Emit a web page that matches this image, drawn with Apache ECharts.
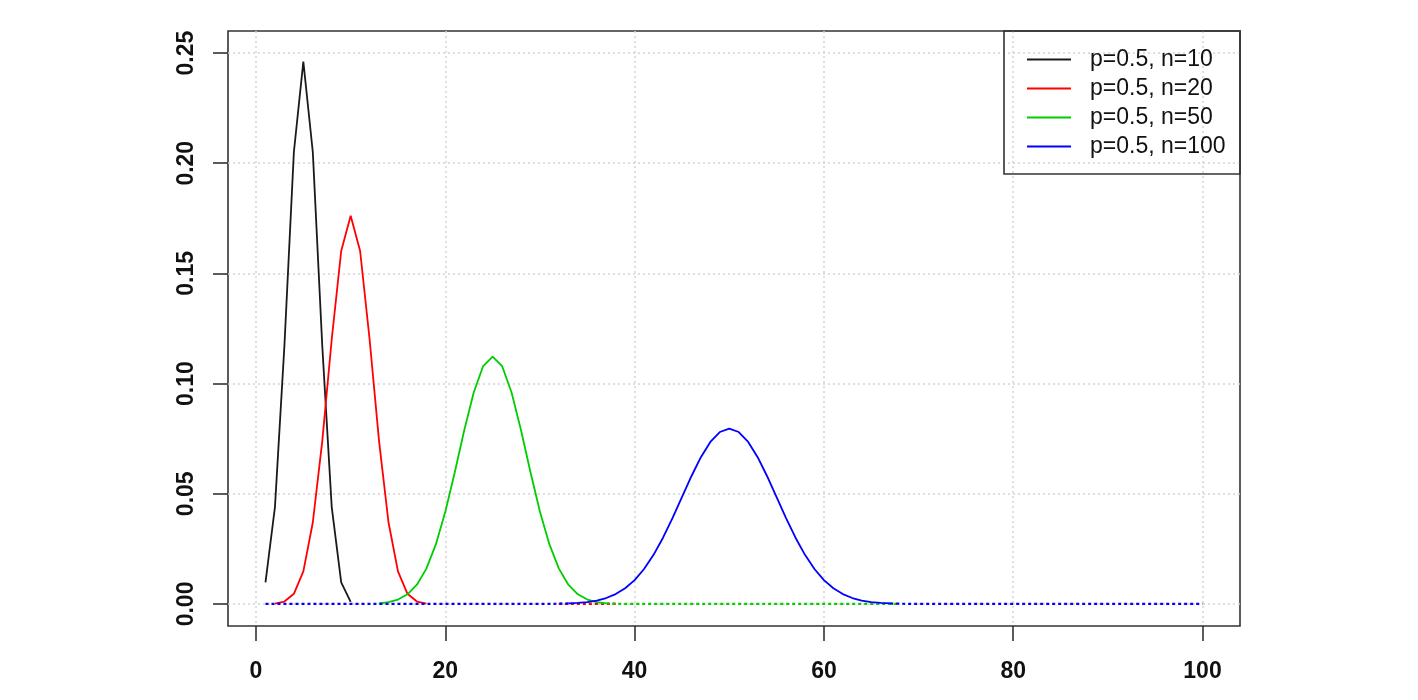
<!DOCTYPE html>
<html>
<head>
<meta charset="utf-8">
<script src="https://cdn.jsdelivr.net/npm/echarts@6/dist/echarts.min.js"></script>
<style>
html,body{margin:0;padding:0;background:#fff;}
#chart{width:1418px;height:700px;}
</style>
</head>
<body>
<div id="chart"></div>
<script>
// x positions 1..100
const xValues = Array.from({length: 100}, (_, i) => i + 1);

// Binomial probabilities (p = 0.5)
const n10 = [
  0.00977,0.04395,0.11719,0.20508,0.24609,0.20508,0.11719,0.04395,0.00977,0.00098,
  0,0,0,0,0,0,0,0,0,0, 0,0,0,0,0,0,0,0,0,0, 0,0,0,0,0,0,0,0,0,0,
  0,0,0,0,0,0,0,0,0,0, 0,0,0,0,0,0,0,0,0,0, 0,0,0,0,0,0,0,0,0,0,
  0,0,0,0,0,0,0,0,0,0, 0,0,0,0,0,0,0,0,0,0, 0,0,0,0,0,0,0,0,0,0
];
const n20 = [
  0.0000191,0.000181,0.001087,0.004621,0.014786,0.036964,0.073929,0.120134,0.160179,0.176197,
  0.160179,0.120134,0.073929,0.036964,0.014786,0.004621,0.001087,0.000181,0.0000191,0.00000095,
  0,0,0,0,0,0,0,0,0,0, 0,0,0,0,0,0,0,0,0,0,
  0,0,0,0,0,0,0,0,0,0, 0,0,0,0,0,0,0,0,0,0, 0,0,0,0,0,0,0,0,0,0,
  0,0,0,0,0,0,0,0,0,0, 0,0,0,0,0,0,0,0,0,0, 0,0,0,0,0,0,0,0,0,0
];
const n50 = [
  0,0,0,0,0,0,0,0,0.000002,0.000009,
  0.000033,0.000108,0.000315,0.000833,0.001999,0.004373,0.008746,0.016035,0.027006,0.041859,
  0.059798,0.078826,0.095962,0.107957,0.112275,0.107957,0.095962,0.078826,0.059798,0.041859,
  0.027006,0.016035,0.008746,0.004373,0.001999,0.000833,0.000315,0.000108,0.000033,0.000009,
  0.000002,0,0,0,0,0,0,0,0,0,
  0,0,0,0,0,0,0,0,0,0, 0,0,0,0,0,0,0,0,0,0, 0,0,0,0,0,0,0,0,0,0,
  0,0,0,0,0,0,0,0,0,0, 0,0,0,0,0,0,0,0,0,0
];
const n100 = [
  0,0,0,0,0,0,0,0,0,0, 0,0,0,0,0,0,0,0,0,0,
  0,0,0,0,0,0,0.000002,0.000004,0.00001,0.000023,
  0.000052,0.000113,0.000233,0.000458,0.000864,0.00156,0.002698,0.004473,0.007111,0.010844,
  0.015869,0.022292,0.030069,0.038953,0.048474,0.057958,0.066591,0.073527,0.078029,0.079589,
  0.078029,0.073527,0.066591,0.057958,0.048474,0.038953,0.030069,0.022292,0.015869,0.010844,
  0.007111,0.004473,0.002698,0.00156,0.000864,0.000458,0.000233,0.000113,0.000052,0.000023,
  0.00001,0.000004,0.000002,0,0,0,0,0,0,0,
  0,0,0,0,0,0,0,0,0,0, 0,0,0,0,0,0,0,0,0,0
];

const seriesNames = ['p=0.5, n=10', 'p=0.5, n=20', 'p=0.5, n=50', 'p=0.5, n=100'];
const seriesValues = [n10, n20, n50, n100];
const seriesColors = ['#1a1a1a', '#ff0000', '#00cd00', '#0000ff'];

const xTicks = [0, 20, 40, 60, 80, 100];
const yTicks = [0, 0.05, 0.1, 0.15, 0.2, 0.25];

// near-zero level below which a curve lies on the baseline
const flatLevel = 0.00015;

// which curve is drawn on top along the baseline at each x
const baselineOwner = xValues.map((x, i) => {
  let owner = -1;
  seriesValues.forEach((vals, s) => { if (vals[i] < flatLevel) owner = s; });
  return owner;
});

const series = [];
seriesValues.forEach((vals, s) => {
  series.push({
    name: seriesNames[s],
    type: 'line',
    data: xValues.map((x, i) => [x, vals[i] >= flatLevel ? vals[i] : null]),
    showSymbol: false,
    symbol: 'none',
    connectNulls: false,
    color: seriesColors[s],
    lineStyle: {color: seriesColors[s], width: 1.8},
    emphasis: {disabled: true},
    silent: true
  });
  series.push({
    name: '_base' + s,
    type: 'line',
    data: xValues.map((x, i) => {
      const own = baselineOwner[i] === s || baselineOwner[i - 1] === s || baselineOwner[i + 1] === s;
      return [x, own ? vals[i] : null];
    }),
    showSymbol: false,
    symbol: 'none',
    connectNulls: false,
    color: seriesColors[s],
    lineStyle: {color: seriesColors[s], width: 2.2, type: [3, 3]},
    emphasis: {disabled: true},
    silent: true
  });
});

const labelFont = {fontFamily: 'Liberation Sans, Arial, sans-serif', fontSize: 23, fontWeight: 'bold', color: '#111'};

const chart = echarts.init(document.getElementById('chart'), null, {renderer: 'canvas'});
chart.setOption({
  animation: false,
  backgroundColor: '#ffffff',
  grid: {
    left: 228, right: 178, top: 31, bottom: 74,
    show: true, borderColor: '#333', borderWidth: 1.6, backgroundColor: 'transparent'
  },
  xAxis: {
    type: 'value', min: -2.96, max: 103.96,
    axisLine: {show: false, onZero: false},
    axisTick: {show: true, inside: false, customValues: xTicks, length: 15, lineStyle: {color: '#333', width: 1.6}},
    axisLabel: Object.assign({customValues: xTicks, margin: 34, formatter: v => String(Math.round(v))}, labelFont),
    splitLine: {show: true, lineStyle: {color: '#d3d3d3', width: 1.5, type: [2, 3]}}
  },
  yAxis: {
    type: 'value', min: -0.01, max: 0.26,
    axisLine: {show: false, onZero: false},
    axisTick: {show: true, inside: false, customValues: yTicks, length: 15, lineStyle: {color: '#333', width: 1.6}},
    axisLabel: Object.assign({customValues: yTicks, margin: 30, rotate: 90, formatter: v => v.toFixed(2)}, labelFont),
    splitLine: {show: true, lineStyle: {color: '#d3d3d3', width: 1.5, type: [2, 3]}}
  },
  legend: {
    data: seriesNames,
    orient: 'vertical',
    left: 1027, top: 48,
    padding: 0,
    itemWidth: 44, itemHeight: 2, itemGap: 6,
    icon: 'rect',
    selectedMode: false,
    textStyle: {fontFamily: 'Liberation Sans, Arial, sans-serif', fontSize: 23, lineHeight: 23, color: '#111', padding: [0, 0, 0, 14]}
  },
  graphic: [{
    type: 'rect',
    shape: {x: 1004, y: 31, width: 236, height: 143},
    style: {fill: null, stroke: '#333', lineWidth: 1.6},
    silent: true, z: 10
  }],
  series: series
});
</script>
</body>
</html>
